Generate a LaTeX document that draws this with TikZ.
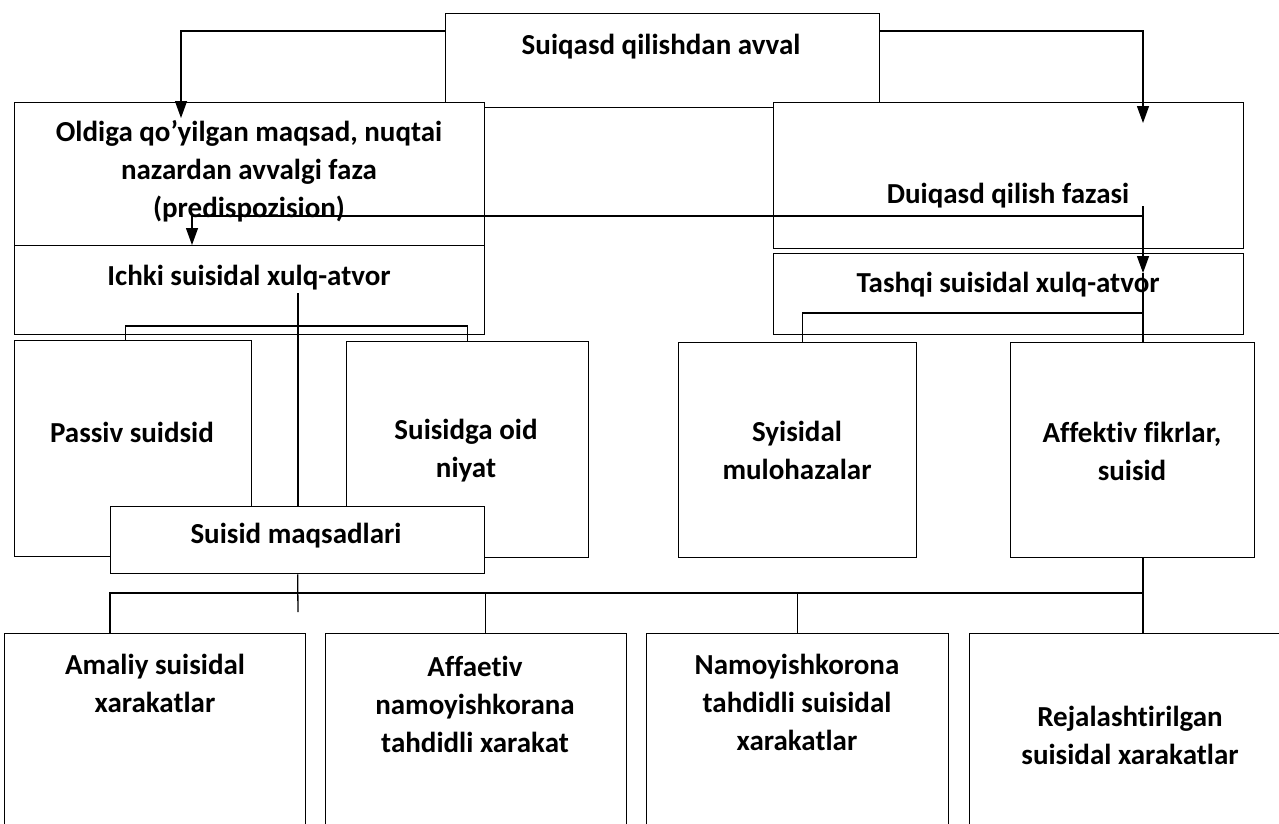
\documentclass[tikz,border=0pt]{standalone}
\usepackage{fontspec}
\setmainfont{Carlito}[Ligatures=NoCommon]
\usetikzlibrary{arrows.meta}

\begin{document}
\begin{tikzpicture}[x=1pt,y=-1pt,
  box/.style={draw,fill=white,line width=1.3pt,anchor=north west,inner sep=0pt},
  lbl/.style={align=center,font=\fontsize{29}{38}\selectfont\bfseries},
  link/.style={line width=1.3pt},
  arr/.style={link,-{Triangle[length=17pt,width=12pt]}}]

\useasboundingbox (0,0) rectangle (1279,823);
\clip (0,0) rectangle (1279,823);

\newcommand\BOX[5]{\node[box,minimum width=#4pt,minimum height=#5pt] (#1) at (#2,#3) {};}

\BOX{top}{445}{13}{434}{94}
\node[lbl] (top-t) at (661,47) {Suiqasd qilishdan avval};
%%

\BOX{pre}{14}{102}{470}{143}
\BOX{duiq}{773}{102}{470}{146}
\node[lbl] (pre-t) at (249,171) {Oldiga qo’yilgan maqsad, nuqtai\\nazardan avvalgi faza\\(predispozision)};
\node[lbl] (duiq-t) at (1008,196) {Duiqasd qilish fazasi};

\coordinate (pre-in) at (181,118);
\coordinate (duiq-in) at (1143,123);
\draw[arr] ([yshift=-18pt]top.north west) -| (pre-in);
\draw[arr] ([yshift=-18pt]top.north east) -| (duiq-in);
%%

\BOX{ichki}{14}{245}{470}{89}
\BOX{tash}{773}{253}{470}{81}
\node[lbl] (ichki-t) at (249,278) {Ichki suisidal xulq-atvor};
\node[lbl] (tash-t) at (1008,285) {Tashqi suisidal xulq-atvor};

\coordinate (split) at (192,216);
\coordinate (jn) at (1143,206);
\coordinate (tash-in) at (1143,273);
\draw[link] (split) -- (split -| jn);
\draw[arr] (split) -- (split |- ichki.north);
\draw[arr] (jn) -- (tash-in);
%%

\BOX{passiv}{14}{340}{237}{216}
\BOX{niyat}{346}{341}{242}{216}
\BOX{mulo}{678}{342}{238}{215}
\BOX{affek}{1010}{342}{244}{215}
\node[lbl] (passiv-t) at (132,432) {Passiv suidsid};
\node[lbl] (niyat-t) at (466,451) {Suisidga oid\\niyat};
\node[lbl] (mulo-t) at (797,450) {Syisidal\\mulohazalar};
\node[lbl] (affek-t) at (1132,451) {Affektiv fikrlar,\\suisid};

\draw[link] ([xshift=-8pt]passiv.north) -- ++(0,-14) -| (niyat.north);
\draw[link] (tash-in) -- (tash-in |- affek.north);
\draw[link] ([xshift=5pt]mulo.north) -- ++(0,-29) -| (tash-in);

\BOX{maqsad}{110}{506}{374}{67}
\node[lbl] (maqsad-t) at (296,536) {Suisid maqsadlari};

\coordinate (ich-out) at (298,293);
\draw[link] (ich-out) -- (ich-out |- maqsad.north);
%%

\BOX{amaliy}{4}{633}{301}{200}
\BOX{affaet}{325}{633}{301}{200}
\BOX{namoy}{646}{633}{302}{200}
\BOX{reja}{969}{633}{320}{200}
\node[lbl] (amaliy-t) at (155,683) {Amaliy suisidal\\xarakatlar};
\node[lbl] (affaet-t) at (475,704) {Affaetiv\\namoyishkorana\\tahdidli xarakat};
\node[lbl] (namoy-t) at (797,702) {Namoyishkorona\\tahdidli suisidal\\xarakatlar};
\node[lbl] (reja-t) at (1130,735) {Rejalashtirilgan\\suisidal xarakatlar};

\coordinate (bus) at (0,593);
\coordinate (mq-end) at (298,612);
\draw[link] (maqsad.south) -- (mq-end);
\draw[link] (amaliy.north -| maqsad.west) |- (bus -| tash-in);
\draw[link] (bus -| maqsad.east) -- (affaet.north -| maqsad.east);
\draw[link] (bus -| namoy.north) -- (namoy.north);
\draw[link] (affek.south -| tash-in) -- (reja.north -| tash-in);

\end{tikzpicture}
\end{document}
